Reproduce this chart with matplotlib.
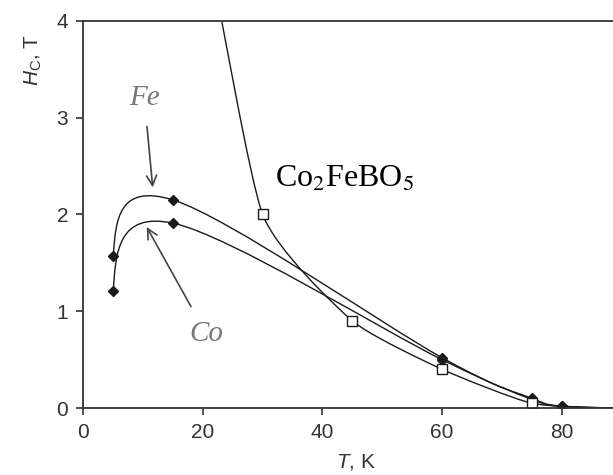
import numpy as np
import matplotlib.pyplot as plt
from matplotlib.path import Path
from matplotlib.patches import PathPatch

plt.rcParams['font.family'] = ['Liberation Sans', 'DejaVu Sans']
plt.rcParams['mathtext.fontset'] = 'custom'
plt.rcParams['mathtext.rm'] = 'Liberation Sans'
plt.rcParams['mathtext.it'] = 'Liberation Sans:italic'

# data (T in K, Hc in T)
fe_T = [5, 15, 60, 75, 80, 90]
fe_H = [1.57, 2.15, 0.52, 0.10, 0.02, 0.0]
co_T = [5, 15, 60, 75, 80, 90]
co_H = [1.21, 1.91, 0.50, 0.09, 0.02, 0.0]
cfb_T = [20, 30, 45, 60, 75, 90]
cfb_H = [5.0, 2.0, 0.9, 0.4, 0.05, 0.0]

x_ticks = [0, 20, 40, 60, 80]
y_ticks = [0, 1, 2, 3, 4]


def smooth_path(xs, ys, k=1/6, end=0.5):
    # excel-like smoothed line: cubic bezier through the points
    # end=None -> first handle points straight at the next point
    p = np.column_stack([xs, ys]).astype(float)
    n = len(p)
    verts = [p[0]]
    codes = [Path.MOVETO]
    for i in range(n - 1):
        a, b = p[i], p[i + 1]
        c2 = b - (p[i + 2] - a) * k if i + 2 < n else None
        c1 = a + (b - p[i - 1]) * k if i > 0 else None
        if c1 is None:
            c1 = a + (b - a) / 3 if end is None else a + (c2 - a) * end
        if c2 is None:
            c2 = b + (c1 - b) * (0.5 if end is None else end)
        verts += [c1, c2, b]
        codes += [Path.CURVE4] * 3
    return Path(verts, codes)


fig = plt.figure(figsize=(6.13, 4.75), dpi=100)
ax = fig.add_axes([0.136, 0.141, 0.864, 0.815])

ax.add_patch(PathPatch(smooth_path(fe_T, fe_H), fill=False, lw=1.0, ec='#1a1a1a'))
ax.add_patch(PathPatch(smooth_path(co_T, co_H), fill=False, lw=1.0, ec='#1a1a1a'))
ax.add_patch(PathPatch(smooth_path(cfb_T, cfb_H, k=0.09, end=None),
                       fill=False, lw=1.0, ec='#1a1a1a'))

ax.plot(fe_T, fe_H, ls='none', marker='D', ms=5.5, color='#1a1a1a')
ax.plot(co_T, co_H, ls='none', marker='D', ms=5.5, color='#1a1a1a')
ax.plot(cfb_T, cfb_H, ls='none', marker='s', ms=7, mfc='white', mec='#1a1a1a', mew=1.0)

ax.set_xlim(0, 88.6)
ax.set_ylim(0, 4)
ax.set_xticks(x_ticks)
ax.set_yticks(y_ticks)
ax.tick_params(direction='out', length=5, width=1.2, labelsize=15, colors='#333333', pad=6)
ax.spines['right'].set_visible(False)
for s in ['left', 'bottom', 'top']:
    ax.spines[s].set_linewidth(1.3)
    ax.spines[s].set_color('#333333')

ax.text(-0.095, 0.90, r'$H_\mathrm{C}$, T', transform=ax.transAxes, rotation=90,
        ha='center', va='center', fontsize=15, color='#333333')
ax.text(0.515, -0.14, r'$T$, K', transform=ax.transAxes,
        ha='center', va='center', fontsize=15, color='#333333')

ax.text(32, 2.36, r'Co$_2$FeBO$_5$', fontsize=23, family='Liberation Serif',
        math_fontfamily='stix', va='center', ha='left')

ax.annotate('Fe', xy=(11.6, 2.28), xytext=(10.2, 3.2), fontsize=21, color='#777777',
            family='Liberation Serif', style='italic', ha='center', va='center',
            arrowprops=dict(arrowstyle='->', color='#444444', lw=1.2,
                            shrinkA=9, shrinkB=0, mutation_scale=18))
ax.annotate('Co', xy=(10.6, 1.87), xytext=(20.6, 0.76), fontsize=21, color='#777777',
            family='Liberation Serif', style='italic', ha='center', va='center',
            arrowprops=dict(arrowstyle='->', color='#444444', lw=1.2,
                            shrinkA=10, shrinkB=0, mutation_scale=18))

fig.savefig('out.png', dpi=100)
